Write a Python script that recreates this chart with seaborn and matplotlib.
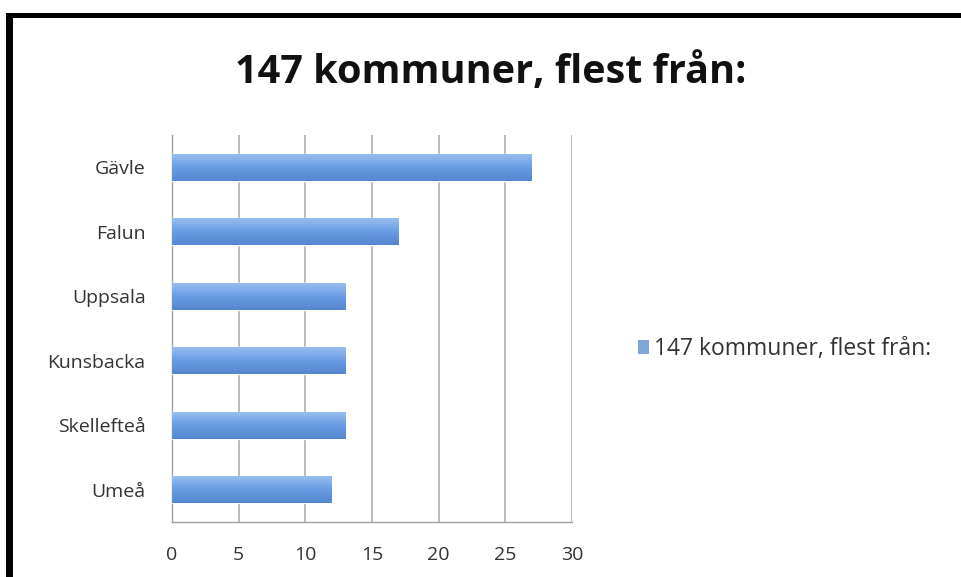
import numpy as np
import pandas as pd
import matplotlib
matplotlib.use("Agg")
import matplotlib.pyplot as plt
from matplotlib.patches import Rectangle
from matplotlib.colors import LinearSegmentedColormap
import seaborn as sns

title = "147 kommuner, flest från:"
cities = ["Gävle", "Falun", "Uppsala", "Kunsbacka", "Skellefteå", "Umeå"]
counts = [27, 17, 13, 13, 13, 12]
xticks = [0, 5, 10, 15, 20, 25, 30]

sns.set_style("white")
plt.rcParams["font.family"] = ["Open Sans", "DejaVu Sans"]

df = pd.DataFrame({"city": cities, "count": counts})

fig = plt.figure(figsize=(9.61, 5.77), dpi=100)
ax = fig.add_axes([172/961, 55/577, 400/961, 387/577])

bar_color = "#6c9fe2"
sns.barplot(data=df, x="count", y="city", orient="h", color=bar_color,
            width=0.42, ax=ax, saturation=1, zorder=3)

# gradient shading on bars
grad = np.linspace(0, 1, 64).reshape(-1, 1)
cmap = LinearSegmentedColormap.from_list("b", ["#9cc0f0", "#6a9de3", "#5587d0"])
for p in ax.patches:
    x0, y0 = p.get_x(), p.get_y()
    w, h = p.get_width(), p.get_height()
    im = ax.imshow(grad, cmap=cmap, aspect="auto",
                   extent=(x0, x0 + w, y0 + h, y0), zorder=4)
    im.set_clip_path(p)

ax.set_xlim(0, 30)
ax.set_ylim(5.5, -0.5)
ax.set_xticks(xticks)
ax.set_xticklabels([str(t) for t in xticks])
ax.set_xlabel("")
ax.set_ylabel("")
ax.xaxis.grid(True, color="#b5b5b5", linewidth=1.3, zorder=0)
ax.set_axisbelow(True)

for s in ["top", "right"]:
    ax.spines[s].set_visible(False)
for s in ["left", "bottom"]:
    ax.spines[s].set_color("#a0a0a0")
    ax.spines[s].set_linewidth(1.0)

ax.tick_params(axis="y", which="major", length=0, pad=19, labelsize=14, labelcolor="#333333")
ax.set_yticks(np.arange(-0.5, 6, 1), minor=True)
ax.tick_params(axis="y", which="minor", length=6, color="#a0a0a0", direction="out")
ax.tick_params(axis="x", which="major", length=5, color="#a0a0a0", direction="out",
               pad=12, labelsize=14, labelcolor="#333333")

fig.text(491/961, 1 - 72/577, title, ha="center", va="center",
         fontsize=28.5, fontweight="bold", color="#111111")

handle = Rectangle((0, 0), 1, 1, facecolor="#7fa6d8", edgecolor="none")
fig.legend([handle], [title], loc="center left", bbox_to_anchor=(617/961, 1 - 349/577),
           frameon=False, fontsize=16.5, handlelength=0.5, handleheight=0.6,
           handletextpad=0.2, labelcolor="#333333")

# screenshot frame (black border top and left)
fig.patches.append(Rectangle((6/961, 0), 7/961, 1 - 13/577, transform=fig.transFigure,
                             facecolor="black", edgecolor="none", zorder=10))
fig.patches.append(Rectangle((6/961, 1 - 18/577), 1, 5/577, transform=fig.transFigure,
                             facecolor="black", edgecolor="none", zorder=10))

fig.savefig("out.png", dpi=100)
